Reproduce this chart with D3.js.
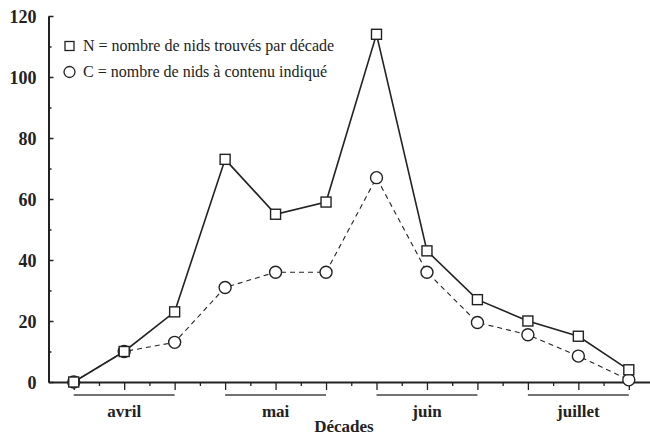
<!DOCTYPE html>
<html><head><meta charset="utf-8">
<script src="https://cdn.jsdelivr.net/npm/d3@7"></script>
<style>body{margin:0;background:#fff}svg{display:block}</style>
</head><body>
<script>
const decades = [0,1,2,3,4,5,6,7,8,9,10,11];
const nValues = [0,10,23,73,55,59,114,43,27,20,15,4];
const cValues = [0,10,13,31,36,36,67,36,19.5,15.5,8.5,0.7];
const months = ["avril","mai","juin","juillet"];
const yTickValues = [0,20,40,60,80,100,120];
const legendLabels = ["N = nombre de nids trouvés par décade","C = nombre de nids à contenu indiqué"];
const xTitle = "Décades";

const W=650,H=436;
const svg=d3.select("body").append("svg").attr("width",W).attr("height",H);
const x=d3.scaleLinear().domain([-0.5,11.42]).range([48.5,650]);
const y=d3.scaleLinear().domain([0,120]).range([382,16]);
const ink="#222";
const serif="Liberation Serif, Times New Roman, serif";

// y axis minor ticks
svg.append("g").attr("transform",`translate(${x(-0.5)},0)`)
 .call(d3.axisRight(y).tickValues(d3.range(10,120,20)).tickSize(3).tickFormat(""))
 .call(g=>{g.select(".domain").remove();g.selectAll("line").attr("stroke",ink).attr("stroke-width",1.5);});
// y axis major
svg.append("g").attr("transform",`translate(${x(-0.5)},0)`)
 .call(d3.axisRight(y).tickValues(yTickValues).tickSize(5).tickSizeOuter(0))
 .call(g=>{
   g.select(".domain").attr("stroke",ink).attr("stroke-width",2);
   g.selectAll("line").attr("stroke",ink).attr("stroke-width",1.5);
   g.selectAll("text").attr("x",-12).attr("text-anchor","end").attr("dy","0.35em")
    .attr("font-family",serif).attr("font-weight","bold").attr("font-size",18).attr("fill",ink);
 });

// x axis
svg.append("g").attr("transform",`translate(0,${y(0)})`)
 .call(d3.axisBottom(x).tickValues(d3.range(0,11.01,0.5)).tickSize(4).tickSizeOuter(0).tickFormat(""))
 .call(g=>{
   g.select(".domain").attr("stroke",ink).attr("stroke-width",2);
   g.selectAll(".tick line").attr("stroke",ink).attr("stroke-width",1.3)
    .attr("y2",d=>Number.isInteger(d)?8:4);
 });

// month underlines and labels
months.forEach((m,i)=>{
  const a=i*3, b=i*3+2;
  svg.append("line").attr("x1",x(a)).attr("x2",x(b)).attr("y1",395).attr("y2",395)
   .attr("stroke","#444").attr("stroke-width",1.5);
  svg.append("text").attr("x",x(a+1)).attr("y",417).attr("text-anchor","middle")
   .attr("font-family",serif).attr("font-weight","bold").attr("font-size",17).attr("fill",ink).text(m);
});
svg.append("text").attr("x",344).attr("y",432).attr("text-anchor","middle")
 .attr("font-family",serif).attr("font-weight","bold").attr("font-size",17).attr("fill",ink).text(xTitle);

// lines
const lineGen=d3.line().x((d,i)=>x(decades[i])).y(d=>y(d));
svg.append("path").attr("d",lineGen(cValues)).attr("fill","none").attr("stroke",ink)
 .attr("stroke-width",1.1).attr("stroke-dasharray","5,4");
svg.append("path").attr("d",lineGen(nValues)).attr("fill","none").attr("stroke",ink).attr("stroke-width",1.6);

// markers
svg.selectAll("circle.c").data(cValues).enter().append("circle").attr("class","c")
 .attr("cx",(d,i)=>x(decades[i])).attr("cy",d=>y(d)).attr("r",6)
 .attr("fill","#fff").attr("stroke",ink).attr("stroke-width",1.4);
svg.selectAll("rect.n").data(nValues).enter().append("rect").attr("class","n")
 .attr("x",(d,i)=>x(decades[i])-5).attr("y",d=>y(d)-5).attr("width",10).attr("height",10)
 .attr("fill","#fff").attr("stroke",ink).attr("stroke-width",1.4);

// legend
const lg=svg.append("g");
lg.append("rect").attr("x",65).attr("y",41.5).attr("width",9).attr("height",9)
 .attr("fill","#fff").attr("stroke",ink).attr("stroke-width",1.3);
lg.append("circle").attr("cx",69.5).attr("cy",72).attr("r",5.5)
 .attr("fill","#fff").attr("stroke",ink).attr("stroke-width",1.3);
lg.append("text").attr("x",83).attr("y",51).attr("font-family",serif).attr("font-size",16).attr("fill",ink).text(legendLabels[0]);
lg.append("text").attr("x",83).attr("y",77).attr("font-family",serif).attr("font-size",16).attr("fill",ink).text(legendLabels[1]);
</script>
</body></html>
